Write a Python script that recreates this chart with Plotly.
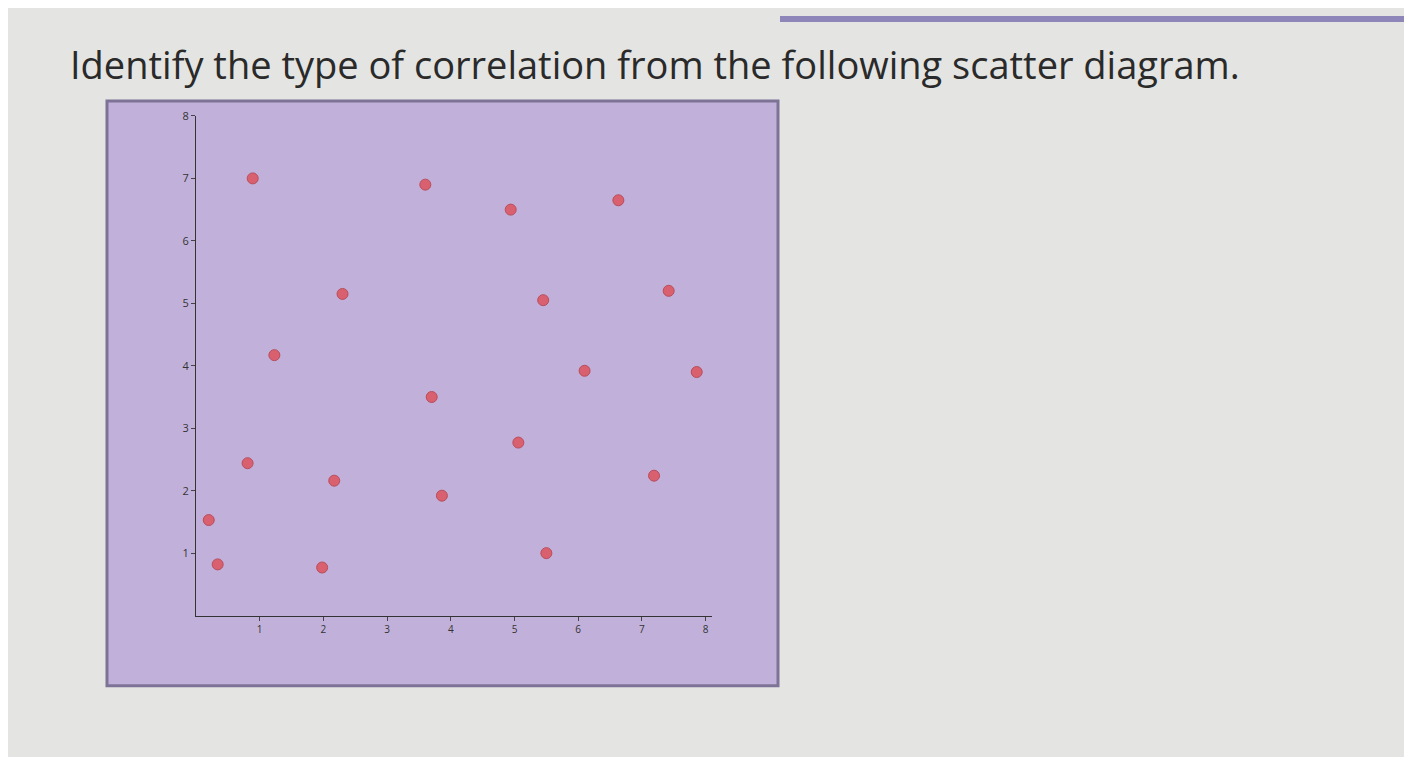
import plotly.graph_objects as go

# points
x_vals = [0.89, 3.6, 4.94, 6.63, 2.3, 5.45, 7.42, 1.23, 6.1, 7.86,
          3.7, 5.06, 0.81, 2.17, 3.86, 7.19, 0.2, 0.34, 1.98, 5.5]
y_vals = [7.0, 6.9, 6.5, 6.65, 5.15, 5.05, 5.2, 4.17, 3.92, 3.9,
          3.5, 2.77, 2.44, 2.16, 1.92, 2.24, 1.53, 0.82, 0.77, 1.0]
tick_vals = [1, 2, 3, 4, 5, 6, 7, 8]

fig = go.Figure(go.Scatter(
    x=x_vals, y=y_vals, mode="markers",
    marker=dict(size=11, color="#d9606e", line=dict(width=1, color="#b84d5c")),
))

W, H = 1412, 757
# page puts the figure 8px in from the left and top
DX, DY = 8, 16
def px(v): return (v - DX) / W
def py(v): return 1 - (v - DY) / H

fig.update_layout(
    width=W, height=H,
    margin=dict(l=0, r=0, t=0, b=0),
    paper_bgcolor="#e4e4e2",
    plot_bgcolor="rgba(0,0,0,0)",
    showlegend=False,
    shapes=[
        dict(type="rect", xref="paper", yref="paper",
             x0=px(107), x1=px(778), y0=py(693), y1=py(102),
             fillcolor="#c1b1da", line=dict(color="#7d7396", width=3), layer="below"),
        dict(type="rect", xref="paper", yref="paper",
             x0=px(780), x1=1, y0=py(22), y1=1,
             fillcolor="#8e86b8", line=dict(width=0), layer="below"),
    ],
    annotations=[dict(
        text="Identify the type of correlation from the following scatter diagram.",
        xref="paper", yref="paper", x=px(68), y=py(65),
        xanchor="left", yanchor="middle", showarrow=False,
        font=dict(family="Open Sans", size=38, color="#2a2a2a", weight=500),
    )],
    xaxis=dict(domain=[px(196), px(712)], range=[0, 8.1], tickvals=tick_vals,
               showgrid=False, zeroline=False, showline=True, linecolor="#333",
               ticks="outside", ticklen=4, tickfont=dict(size=10, color="#333")),
    yaxis=dict(domain=[py(622), py(117)], range=[0, 8], tickvals=tick_vals,
               showgrid=False, zeroline=False, showline=True, linecolor="#333",
               ticks="outside", ticklen=4, tickfont=dict(size=11, color="#333")),
)

fig.write_html("out.html")
